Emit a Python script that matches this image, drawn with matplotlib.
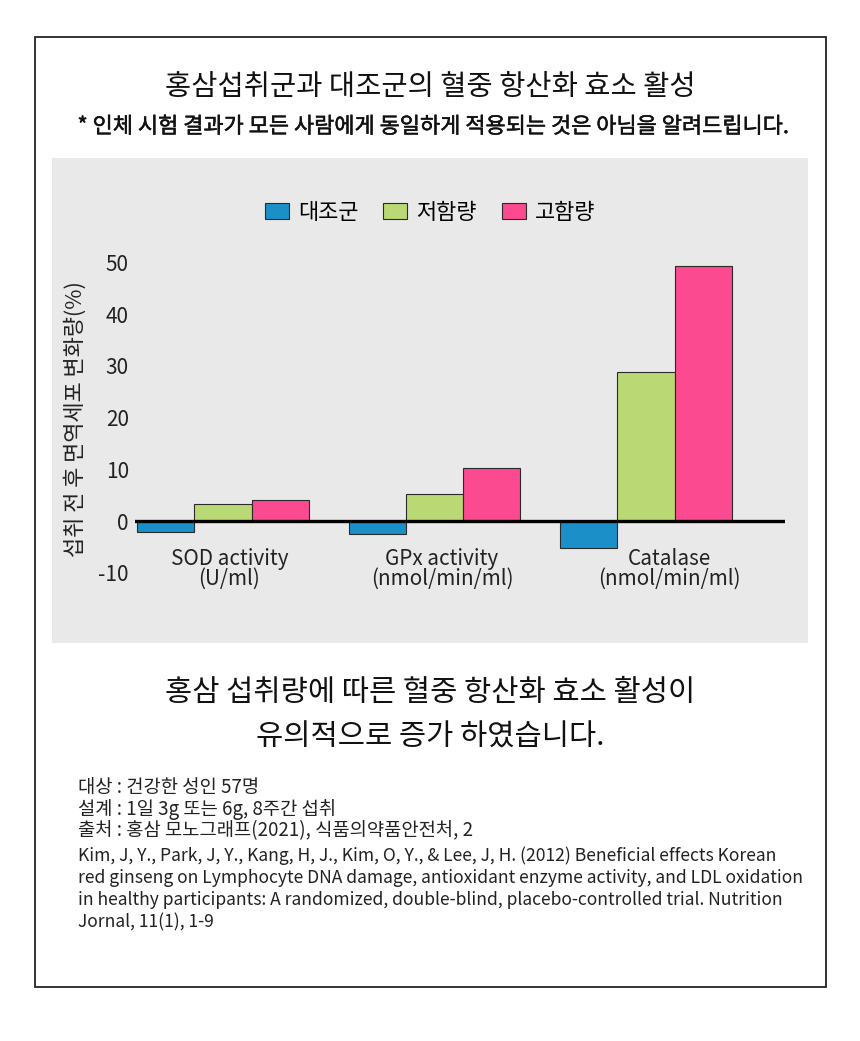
import numpy as np
import matplotlib
matplotlib.use('Agg')
import matplotlib.pyplot as plt
import matplotlib.patheffects as pe
from matplotlib.patches import Rectangle

plt.rcParams['font.family'] = ['Noto Sans CJK KR', 'DejaVu Sans']
plt.rcParams['axes.unicode_minus'] = False

# --- 데이터 ---
categories = ['SOD activity\n(U/ml)', 'GPx activity\n(nmol/min/ml)', 'Catalase\n(nmol/min/ml)']
series_names = ['대조군', '저함량', '고함량']
control_vals = [-2.2, -2.5, -5.2]
low_vals = [3.2, 5.2, 28.8]
high_vals = [4.1, 10.3, 49.3]
yticks = [-10, 0, 10, 20, 30, 40, 50]

colors = ['#1a8fc8', '#bad874', '#fb4a8f']
title = '홍삼섭취군과 대조군의 혈중 항산화 효소 활성'
subtitle = '* 인체 시험 결과가 모든 사람에게 동일하게 적용되는 것은 아님을 알려드립니다.'
summary = '홍삼 섭취량에 따른 혈중 항산화 효소 활성이\n유의적으로 증가 하였습니다.'
notes = [
    '대상 : 건강한 성인 57명',
    '설계 : 1일 3g 또는 6g, 8주간 섭취',
    '출처 : 홍삼 모노그래프(2021), 식품의약품안전처, 2',
    'Kim, J, Y., Park, J, Y., Kang, H, J., Kim, O, Y., & Lee, J, H. (2012) Beneficial effects Korean',
    'red ginseng on Lymphocyte DNA damage, antioxidant enzyme activity, and LDL oxidation',
    'in healthy participants: A randomized, double-blind, placebo-controlled trial. Nutrition',
    'Jornal, 11(1), 1-9',
]

W, H = 860, 1041
fig = plt.figure(figsize=(W / 100, H / 100), dpi=100)
fig.patch.set_facecolor('white')

def fx(px):
    return px / W

def fy(py):
    return 1 - py / H

# 외곽 테두리 + 회색 패널 (축 뒤로)
bg = fig.add_axes([0, 0, 1, 1], zorder=-5)
bg.set_xlim(0, W)
bg.set_ylim(H, 0)
bg.axis('off')
bg.add_patch(Rectangle((35, 37), 826 - 35, 987 - 37, fill=False, ec='#222222', lw=1.3))
bg.add_patch(Rectangle((52, 158), 808 - 52, 643 - 158, fc='#e9e9e9', ec='none'))

fig.text(0.5, fy(87), title, ha='center', va='center', fontsize=20.5, color='#111111')
fig.text(fx(432), fy(127), subtitle, ha='center', va='center', fontsize=15.8,
         color='#111111', path_effects=[pe.withStroke(linewidth=0.35, foreground='#111111')])

# --- 차트 ---
ax_left, ax_right = 135, 785
ppu = 5.17
ymin, ymax = -12, 52
ax_top = 521 - ymax * ppu
ax_bot = 521 - ymin * ppu
ax = fig.add_axes([fx(ax_left), fy(ax_bot), fx(ax_right - ax_left), (ax_bot - ax_top) / H])
ax.set_facecolor('none')

x = np.arange(len(categories))
bw = 0.27
for i, (vals, name) in enumerate(zip([control_vals, low_vals, high_vals], series_names)):
    ax.bar(x + (i - 1) * bw, vals, bw, color=colors[i], edgecolor='#2a2a2a', linewidth=0.8,
           label=name, zorder=2)
ax.axhline(0, color='black', lw=2.4, zorder=3)

ax.set_xlim(-0.416, 2.657)
ax.set_ylim(ymin, ymax)
ax.set_yticks(yticks)
ax.set_yticklabels([str(v) for v in yticks], fontsize=15, color='#222222')
ax.tick_params(axis='y', length=0, pad=4.5)
ax.set_xticks([])
for s in ax.spines.values():
    s.set_visible(False)

label_x = [0.03, 1.035, 2.11]
for lx, cat in zip(label_x, categories):
    ax.text(lx, -5.3, cat, ha='center', va='top', fontsize=14.9, color='#222222',
            linespacing=0.82)

fig.text(fx(75), fy(419), '섭취 전 후 면역세포 변화량(%)', rotation=90, ha='center', va='center',
         fontsize=15.8, color='#222222')

fig.legend(loc='center', bbox_to_anchor=(fx(430), fy(213)), ncol=3, frameon=False,
           fontsize=15.8, handlelength=1.1, handleheight=0.75, columnspacing=1.15,
           handletextpad=0.4)

# --- 요약 / 출처 ---
fig.text(0.5, fy(715), summary, ha='center', va='center', fontsize=21.3, color='#111111',
         linespacing=1.55)

for k, line in enumerate(notes):
    yy = 787 + k * 22 + (3 if k >= 3 else 0)
    fs = 13.5 if k < 3 else 12.6
    fig.text(fx(78), fy(yy), line, ha='left', va='center', fontsize=fs, color='#222222')

fig.savefig('out.png', dpi=100)
